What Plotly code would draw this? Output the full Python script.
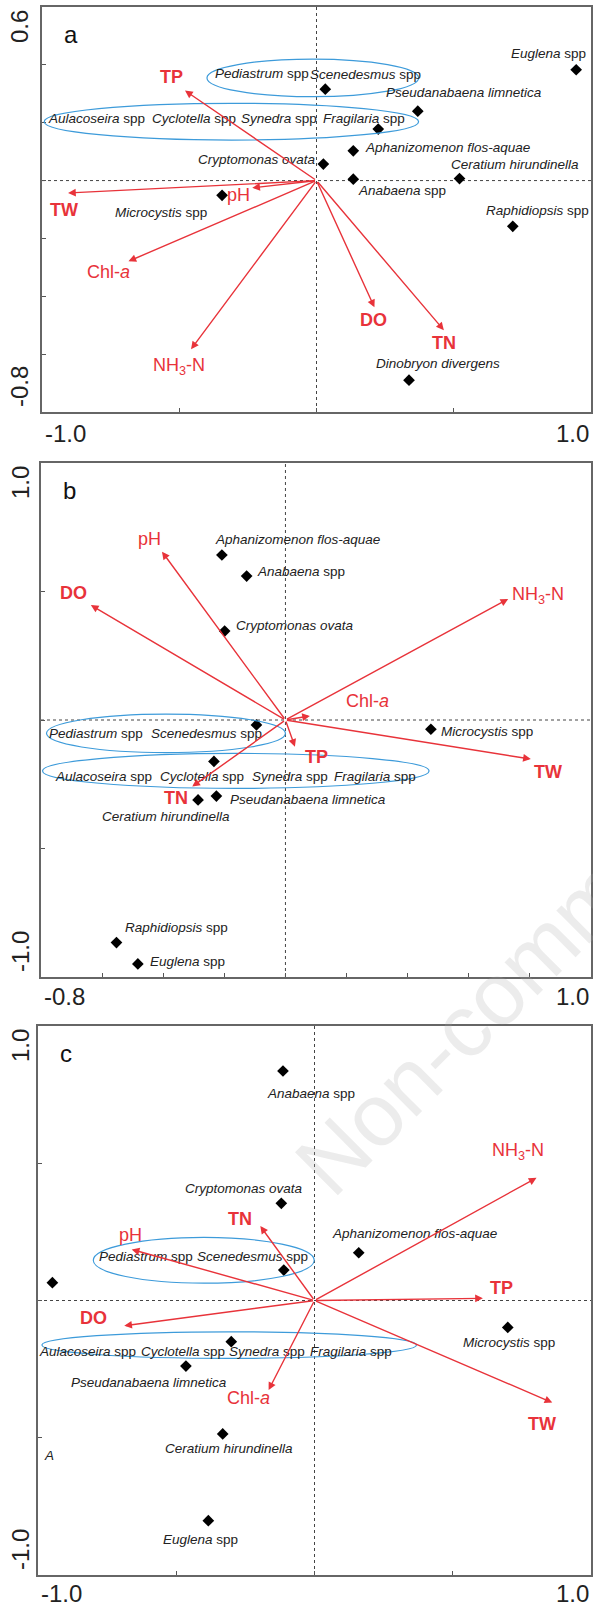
import plotly.graph_objects as go

W, H = 593, 1608

# ---------------- Panel a ----------------
a_pt_x = [0.946, 0.032, 0.369, 0.225, 0.134, 0.025, 0.134, 0.521, -0.344, 0.715, 0.337]
a_pt_y = [0.383, 0.316, 0.240, 0.178, 0.103, 0.057, 0.005, 0.007, -0.051, -0.158, -0.690]
a_lab = ["Euglena spp", "Pediastrum spp", "Scenedesmus spp", "Pseudanabaena limnetica",
         "Aulacoseira spp", "Cyclotella spp", "Synedra spp", "Fragilaria spp",
         "Aphanizomenon flos-aquae", "Cryptomonas ovata", "Ceratium hirundinella",
         "Anabaena spp", "Microcystis spp", "Raphidiopsis spp", "Dinobryon divergens"]
a_lab_x = [0.844, -0.198, 0.179, 0.539, -0.800, -0.446, -0.138, 0.172, 0.479, -0.216, 0.723,
           0.313, -0.566, 0.806, 0.442]
a_lab_y = [0.440, 0.369, 0.365, 0.304, 0.213, 0.213, 0.213, 0.213, 0.114, 0.073, 0.055,
           -0.036, -0.112, -0.103, -0.632]
a_env = ["TP", "pH", "TW", "Chl-a", "NH3-N", "DO", "TN"]
a_env_x = [-0.479, -0.234, -0.905, -0.685, -0.457, 0.211, 0.464]
a_env_y = [0.311, -0.025, -0.043, -0.279, -0.583, -0.438, -0.517]
a_env_lx = [-0.530, -0.285, -0.919, -0.758, -0.500, 0.209, 0.466]
a_env_ly = [0.357, -0.051, -0.103, -0.317, -0.644, -0.481, -0.560]
a_ell = [(-0.399, 0.290, 0.372, 0.420), (-0.992, 0.140, 0.372, 0.267)]
a_xrange = [-1.0, 1.0]
a_yrange = [-0.8, 0.6]
a_xtext = ["-1.0", "1.0"]
a_ytext = ["-0.8", "0.6"]

# ---------------- Panel b ----------------
b_pt_x = [-0.208, -0.127, -0.199, -0.095, 0.476, -0.234, -0.286, -0.226, -0.553, -0.483]
b_pt_y = [0.642, 0.560, 0.346, -0.019, -0.036, -0.161, -0.311, -0.296, -0.866, -0.949]
b_lab = ["Aphanizomenon flos-aquae", "Anabaena spp", "Cryptomonas ovata", "Microcystis spp",
         "Ceratium hirundinella", "Pseudanabaena limnetica", "Raphidiopsis spp", "Euglena spp",
         "Pediastrum spp", "Scenedesmus spp", "Aulacoseira spp", "Cyclotella spp",
         "Synedra spp", "Fragilaria spp"]
b_lab_x = [0.040, 0.052, 0.032, 0.661, -0.392, 0.074, -0.355, -0.321, -0.620, -0.260,
           -0.597, -0.272, 0.014, 0.294]
b_lab_y = [0.704, 0.577, 0.367, -0.045, -0.374, -0.309, -0.807, -0.940, -0.054, -0.054,
           -0.218, -0.218, -0.218, -0.218]
b_env = ["pH", "DO", "NH3-N", "Chl-a", "TW", "TP", "TN"]
b_env_x = [-0.404, -0.637, 0.729, 0.080, 0.803, 0.031, -0.305]
b_env_y = [0.655, 0.447, 0.471, 0.016, -0.152, -0.104, -0.259]
b_env_lx = [-0.445, -0.695, 0.828, 0.268, 0.859, 0.103, -0.358]
b_env_ly = [0.703, 0.495, 0.486, 0.074, -0.201, -0.143, -0.305]
b_ell = [(-0.782, -0.127, 0.0, 0.023), (-0.795, -0.266, 0.470, -0.130)]
b_xrange = [-0.8, 1.0]
b_yrange = [-1.0, 1.0]
b_xtext = ["-0.8", "1.0"]
b_ytext = ["-1.0", "1.0"]

# ---------------- Panel c ----------------
c_pt_x = [-0.114, -0.120, 0.160, -0.111, -0.948, 0.699, -0.301, -0.465, -0.332, -0.384]
c_pt_y = [0.836, 0.354, 0.174, 0.111, 0.065, -0.098, -0.150, -0.239, -0.486, -0.802]
c_lab = ["Anabaena spp", "Cryptomonas ovata", "Aphanizomenon flos-aquae", "Pediastrum spp",
         "Scenedesmus spp", "Microcystis spp", "Aulacoseira spp", "Cyclotella spp",
         "Synedra spp", "Fragilaria spp", "Pseudanabaena limnetica", "Ceratium hirundinella",
         "Euglena spp", "A"]
c_lab_x = [-0.011, -0.256, 0.360, -0.609, -0.226, 0.705, -0.822, -0.476, -0.171, 0.131,
           -0.599, -0.311, -0.413, -0.962]
c_lab_y = [0.755, 0.409, 0.245, 0.160, 0.160, -0.154, -0.184, -0.184, -0.184, -0.184,
           -0.299, -0.539, -0.870, -0.563]
c_env = ["NH3-N", "TN", "pH", "TP", "DO", "Chl-a", "TW"]
c_env_x = [0.803, -0.196, -0.661, 0.609, -0.688, -0.166, 0.860]
c_env_y = [0.447, 0.271, 0.186, 0.008, -0.092, -0.326, -0.372]
c_env_lx = [0.735, -0.269, -0.664, 0.676, -0.798, -0.239, 0.824]
c_env_ly = [0.542, 0.297, 0.239, 0.044, -0.065, -0.356, -0.450]
c_ell = [(-0.800, 0.063, -0.001, 0.230), (-0.986, -0.211, 0.369, -0.114)]
c_xrange = [-1.0, 1.0]
c_yrange = [-1.0, 1.0]
c_xtext = ["-1.0", "1.0"]
c_ytext = ["-1.0", "1.0"]

# ---------------- layout geometry (pixels) ----------------
panels = [
    dict(letter="a", pt=(a_pt_x, a_pt_y), lab=(a_lab, a_lab_x, a_lab_y),
         env=(a_env, a_env_x, a_env_y, a_env_lx, a_env_ly), ell=a_ell,
         xr=a_xrange, yr=a_yrange, xt=a_xtext, yt=a_ytext, xd=0.5, yd=0.2,
         box=(42, 591, 7, 412), xlab_shift=-21),
    dict(letter="b", pt=(b_pt_x, b_pt_y), lab=(b_lab, b_lab_x, b_lab_y),
         env=(b_env, b_env_x, b_env_y, b_env_lx, b_env_ly), ell=b_ell,
         xr=b_xrange, yr=b_yrange, xt=b_xtext, yt=b_ytext, xd=0.2, yd=0.5,
         box=(41, 591, 463, 977), xlab_shift=-19),
    dict(letter="c", pt=(c_pt_x, c_pt_y), lab=(c_lab, c_lab_x, c_lab_y),
         env=(c_env, c_env_x, c_env_y, c_env_lx, c_env_ly), ell=c_ell,
         xr=c_xrange, yr=c_yrange, xt=c_xtext, yt=c_ytext, xd=0.5, yd=0.5,
         box=(38, 591, 1026, 1575), xlab_shift=-18),
]

RED = "#E8333A"
BLUE = "#3D9BDA"
FONT = "Liberation Sans, Arial, sans-serif"


def fmt_species(s):
    if s.endswith(" spp"):
        return "<i>%s</i> spp" % s[:-4]
    return "<i>%s</i>" % s


def fmt_env(s):
    if s == "NH3-N":
        return "NH<sub>3</sub>-N"
    if s == "Chl-a":
        return "Chl-<i>a</i>"
    if s == "pH":
        return "pH"
    return "<b>%s</b>" % s


fig = go.Figure()
annotations = []
shapes = []
layout = {}

for i, p in enumerate(panels):
    n = "" if i == 0 else str(i + 1)
    xa, ya = "x" + n, "y" + n
    x0, x1, y0, y1 = p["box"]
    layout["xaxis" + n] = dict(
        domain=[x0 / W, x1 / W], range=p["xr"], anchor=ya, showgrid=False, zeroline=False,
        showline=True, mirror=True, linecolor="#666", linewidth=1.6, ticks="inside",
        ticklen=4, tickcolor="#555", dtick=p["xd"], tick0=0, showticklabels=False,
        fixedrange=True)
    layout["yaxis" + n] = dict(
        domain=[1 - y1 / H, 1 - y0 / H], range=p["yr"], anchor=xa, showgrid=False,
        zeroline=False, showline=True, mirror=True, linecolor="#666", linewidth=1.6,
        ticks="inside", ticklen=4, tickcolor="#555", dtick=p["yd"], tick0=0,
        showticklabels=False, fixedrange=True)

    # zero lines
    shapes.append(dict(type="line", xref=xa, yref=ya + " domain", x0=0, x1=0, y0=0, y1=1,
                       line=dict(color="#444", width=1, dash="dot"), layer="below"))
    shapes.append(dict(type="line", xref=xa + " domain", yref=ya, x0=0, x1=1, y0=0, y1=0,
                       line=dict(color="#444", width=1, dash="dot"), layer="below"))

    # ellipses
    for (ex0, ey0, ex1, ey1) in p["ell"]:
        shapes.append(dict(type="circle", xref=xa, yref=ya, x0=ex0, x1=ex1, y0=ey0, y1=ey1,
                           line=dict(color=BLUE, width=1.2)))

    # species points
    fig.add_trace(go.Scatter(x=p["pt"][0], y=p["pt"][1], mode="markers", xaxis=xa, yaxis=ya,
                             marker=dict(symbol="diamond", size=9, color="black"),
                             showlegend=False, hoverinfo="skip"))

    # species labels
    for t, lx, ly in zip(*p["lab"]):
        annotations.append(dict(x=lx, y=ly, xref=xa, yref=ya, text=fmt_species(t),
                                showarrow=False, font=dict(family=FONT, size=13.5, color="#222"),
                                xanchor="center", yanchor="middle"))

    # environmental arrows + labels
    names, ex, ey, elx, ely = p["env"]
    for t, tx, ty, lx, ly in zip(names, ex, ey, elx, ely):
        annotations.append(dict(x=tx, y=ty, ax=0, ay=0, xref=xa, yref=ya, axref=xa, ayref=ya,
                                text="", showarrow=True, arrowhead=2, arrowsize=1.1,
                                arrowwidth=1.4, arrowcolor=RED, standoff=0))
        annotations.append(dict(x=lx, y=ly, xref=xa, yref=ya, text=fmt_env(t), showarrow=False,
                                font=dict(family=FONT, size=18, color=RED),
                                xanchor="center", yanchor="middle"))

    # axis end labels
    tick_font = dict(family=FONT, size=24, color="#222")
    annotations.append(dict(x=p["xr"][0], y=0, xref=xa, yref=ya + " domain", text=p["xt"][0],
                            showarrow=False, xanchor="left", yanchor="middle",
                            yshift=p["xlab_shift"], xshift=1, font=tick_font))
    annotations.append(dict(x=p["xr"][1], y=0, xref=xa, yref=ya + " domain", text=p["xt"][1],
                            showarrow=False, xanchor="right", yanchor="middle",
                            yshift=p["xlab_shift"], font=tick_font))
    annotations.append(dict(x=20 / W, y=p["yr"][0], xref="paper", yref=ya, text=p["yt"][0],
                            showarrow=False, xanchor="center", yanchor="middle", yshift=25,
                            textangle=-90, font=tick_font))
    annotations.append(dict(x=20 / W, y=p["yr"][1], xref="paper", yref=ya, text=p["yt"][1],
                            showarrow=False, xanchor="center", yanchor="middle", yshift=-20,
                            textangle=-90, font=tick_font))

    # panel letter
    annotations.append(dict(x=0, y=1, xref=xa + " domain", yref=ya + " domain",
                            text=p["letter"], showarrow=False, xanchor="left", yanchor="top",
                            xshift=20, yshift=-12, font=dict(family=FONT, size=24, color="#111")))

# faint watermark
annotations.append(dict(x=537 / W, y=1 - 952 / H, xref="paper", yref="paper",
                        text="Non-commercial", showarrow=False, textangle=-45,
                        xanchor="center", yanchor="middle",
                        font=dict(family=FONT, size=88, color="rgba(170,170,170,0.22)")))

fig.update_layout(
    width=W, height=H, margin=dict(l=0, r=0, t=0, b=0),
    paper_bgcolor="white", plot_bgcolor="white",
    annotations=annotations, shapes=shapes, showlegend=False, **layout)

fig.write_html("out.html", config={"displayModeBar": False})
